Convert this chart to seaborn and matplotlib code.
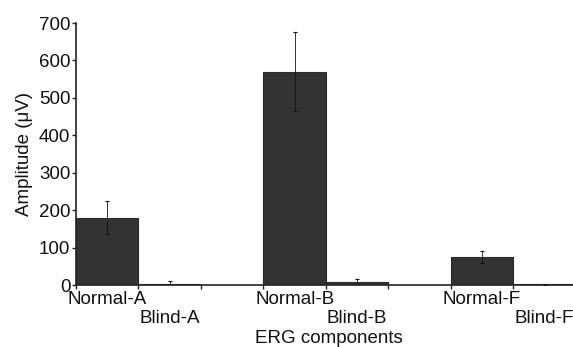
import matplotlib
matplotlib.use("Agg")
import matplotlib.pyplot as plt
import seaborn as sns
import numpy as np
import pandas as pd

# ---- data ----
categories = ["Normal-A", "Blind-A", "Normal-B", "Blind-B", "Normal-F", "Blind-F"]
amplitude = [180, 3, 570, 9, 75, 2]
amplitude_err = [44, 7, 105, 7, 17, 2]
y_ticks = [0, 100, 200, 300, 400, 500, 600, 700]

sns.set_theme(style="white")
plt.rcParams["font.family"] = ["Liberation Sans", "DejaVu Sans"]

# groups of two bars with a one-bar gap between groups
pos = [(i // 2) * 3 + (i % 2) for i in range(len(categories))]
df = pd.DataFrame({"pos": pos, "amp": amplitude, "cat": categories})

fig = plt.figure(figsize=(5.73, 3.47), dpi=100)
ax = fig.add_axes([76 / 573, 62 / 347, 506 / 573, 262 / 347])

sns.barplot(data=df, x="pos", y="amp", native_scale=True, width=1.0,
            color="#333333", saturation=1, edgecolor="#2a2a2a", linewidth=0.8,
            errorbar=None, ax=ax)
ax.errorbar(pos, amplitude, yerr=amplitude_err, fmt="none", ecolor="#111111",
            elinewidth=0.6, capsize=1.5, capthick=0.8)

ax.set_xlim(-0.5, 7.6)
ax.set_ylim(0, 700)
ax.set_yticks(y_ticks)
ax.set_xticks(pos, categories)
ax.set_xticks(np.arange(-0.5, 8, 1.0), minor=True)

for s in ["top", "right"]:
    ax.spines[s].set_visible(False)
for s in ["left", "bottom"]:
    ax.spines[s].set_linewidth(1.2)
    ax.spines[s].set_color("#222222")

fs = 13.5
ax.tick_params(axis="y", which="major", direction="out", length=3, width=1,
               color="#222222", labelsize=fs, pad=1, left=True,
               labelcolor="#111111")
ax.tick_params(axis="x", which="major", length=0, labelsize=fs, pad=4.5,
               labelcolor="#111111")
ax.tick_params(axis="x", which="minor", direction="out", length=3, width=1,
               color="#222222", bottom=True)

for i, t in enumerate(ax.xaxis.get_major_ticks()):
    if i % 2 == 1:
        t.set_pad(18)

ax.set_xlabel("ERG components", fontsize=fs, color="#111111")
ax.xaxis.set_label_coords(0.5, -0.17)
ax.set_ylabel("Amplitude (\u03bcV)", fontsize=fs, labelpad=4, color="#111111")

fig.savefig("out.png", dpi=100)
